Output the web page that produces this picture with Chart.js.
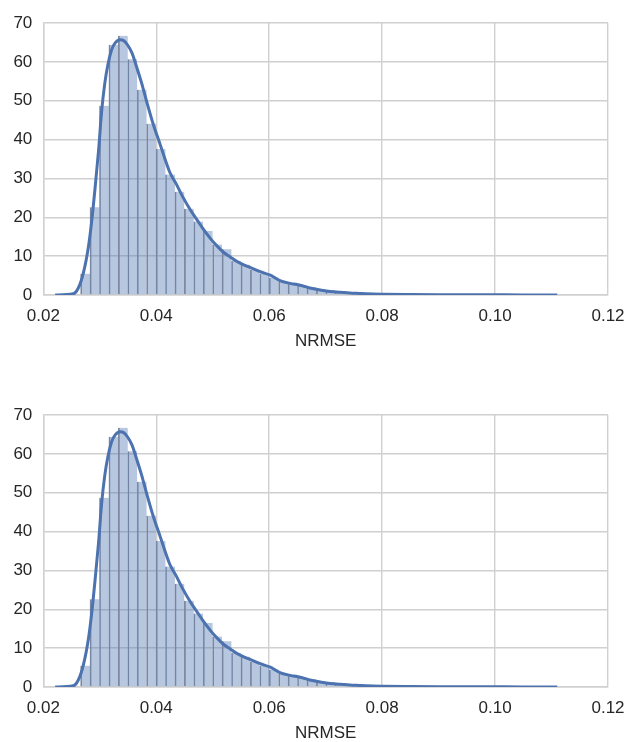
<!DOCTYPE html>
<html>
<head>
<meta charset="utf-8">
<script src="https://cdn.jsdelivr.net/npm/chart.js@4.4.1/dist/chart.umd.min.js"></script>
<style>
	html, body { margin: 0; padding: 0; background: #fff; }
	.box { position: absolute; left: 0; width: 627px; height: 360px; }
</style>
</head>
<body>
<div class="box" style="top:0"><canvas id="chartTop"></canvas></div>
<div class="box" style="top:392px"><canvas id="chartBottom"></canvas></div>
<script>
// histogram bins (centres) and heights
const binCenters = [0.02744, 0.02911, 0.03078, 0.03245, 0.03412, 0.03579, 0.03746, 0.03913,
	0.04080, 0.04247, 0.04414, 0.04581, 0.04748, 0.04915, 0.05082, 0.05249,
	0.05416, 0.05583, 0.05750, 0.05917, 0.06084, 0.06251, 0.06418, 0.06585,
	0.06752, 0.06919, 0.07086, 0.07253, 0.07420, 0.07587, 0.07754, 0.07921,
	0.08088, 0.08255, 0.08422, 0.08589, 0.08756, 0.08923, 0.09090, 0.09257,
	0.09424, 0.09591, 0.09758, 0.09925, 0.10092, 0.10259, 0.10426, 0.10593];
const binHeights = [5.5, 22.6, 48.7, 64.4, 66.7, 60.7, 52.8, 44.1,
	37.6, 31.0, 26.6, 22.2, 18.9, 16.5, 13.0, 11.8,
	8.8, 7.8, 6.5, 5.5, 4.5, 3.5, 3.2, 2.6,
	2.0, 1.5, 1.3, 1.0, 0.8, 0.7, 0.6, 0.5,
	0.4, 0.35, 0.3, 0.25, 0.2, 0.2, 0.15, 0.12,
	0.1, 0.1, 0.08, 0.06, 0.05, 0.05, 0.03, 0.03];

// kde curve
const kdeX = [0.0221, 0.0253, 0.0262, 0.0271, 0.0280, 0.0286, 0.0292, 0.0298, 0.0303, 0.0309,
	0.0315, 0.0321, 0.0327, 0.0336, 0.0342, 0.0349, 0.0357, 0.0365, 0.0374, 0.0383,
	0.0395, 0.0407, 0.0424, 0.0436, 0.0448, 0.0460, 0.0472, 0.0484, 0.0495, 0.0507,
	0.0519, 0.0531, 0.0543, 0.0554, 0.0566, 0.0584, 0.0602, 0.0619, 0.0637, 0.0655,
	0.0672, 0.0690, 0.0708, 0.0726, 0.0743, 0.0761, 0.0784, 0.0800, 0.0850, 0.0900,
	0.0950, 0.1000, 0.1050, 0.1110];
const kdeY = [0, 0.3, 1.8, 5.7, 12.5, 19.4, 28.0, 37.4, 46.8, 54.6,
	59.7, 63.1, 64.8, 65.7, 65.5, 64.4, 62.3, 58.8, 54.6, 49.8,
	43.8, 38.7, 31.6, 28.4, 25.0, 22.0, 19.4, 16.8, 14.7, 12.7,
	11.0, 9.8, 8.6, 7.8, 7.1, 6.0, 5.1, 3.7, 3.0, 2.5,
	1.8, 1.3, 0.9, 0.7, 0.5, 0.4, 0.26, 0.2, 0.12, 0.08,
	0.06, 0.05, 0.03, 0.01];

const xTicks = [0.02, 0.04, 0.06, 0.08, 0.10, 0.12];
const yTicks = [0, 10, 20, 30, 40, 50, 60, 70];
const xLabel = 'NRMSE';

const fontFam = '"Liberation Sans", Arial, sans-serif';
const textColor = '#262626';
const gridColor = '#d0d0d0';

function makeChart(id) {
	const ctx = document.getElementById(id).getContext('2d');
	return new Chart(ctx, {
		type: 'bar',
		data: {
			datasets: [{
				type: 'line',
				order: 0,
				data: kdeX.map((x, i) => ({ x: x, y: kdeY[i] })),
				borderColor: '#4c72b0',
				borderWidth: 3,
				pointRadius: 0,
				cubicInterpolationMode: 'monotone',
				fill: false
			}, {
				type: 'bar',
				order: 1,
				data: binCenters.map((x, i) => ({ x: x, y: binHeights[i] })),
				backgroundColor: 'rgba(76, 114, 176, 0.4)',
				borderColor: '#7f8aa0',
				borderWidth: { left: 1, right: 0, top: 0, bottom: 0 },
				borderSkipped: false,
				barPercentage: 1,
				categoryPercentage: 1
			}]
		},
		options: {
			responsive: true,
			maintainAspectRatio: false,
			animation: false,
			devicePixelRatio: 1,
			layout: { padding: { top: 23, right: 19, left: 0, bottom: 0 } },
			plugins: {
				legend: { display: false },
				tooltip: { enabled: false }
			},
			scales: {
				x: {
					type: 'linear',
					offset: false,
					min: 0.02,
					max: 0.12,
					afterBuildTicks: s => { s.ticks = xTicks.map(v => ({ value: v })); },
					afterFit: s => {
						s.height = 65;
						// labels may overhang the plot edges, like matplotlib
						s.paddingLeft = 0;
						s.paddingRight = 0;
					},
					grid: { color: gridColor, lineWidth: 1.4, drawTicks: false, offset: false },
					border: { color: gridColor, width: 1.4 },
					ticks: {
						padding: 11,
						color: textColor,
						font: { family: fontFam, size: 17 },
						callback: v => v.toFixed(2),
						maxRotation: 0
					},
					title: {
						display: true,
						text: xLabel,
						color: textColor,
						font: { family: fontFam, size: 17 },
						padding: { top: 0, bottom: 8 }
					}
				},
				y: {
					min: 0,
					max: 70,
					afterBuildTicks: s => { s.ticks = yTicks.map(v => ({ value: v })); },
					afterFit: s => {
						s.width = 43.3;
						s.paddingTop = 0;
						s.paddingBottom = 0;
					},
					grid: { color: gridColor, lineWidth: 1.4, drawTicks: false },
					border: { color: gridColor, width: 1.4 },
					ticks: {
						padding: 11,
						color: textColor,
						font: { family: fontFam, size: 17 }
					}
				}
			}
		}
	});
}

makeChart('chartTop');
makeChart('chartBottom');
</script>
</body>
</html>
